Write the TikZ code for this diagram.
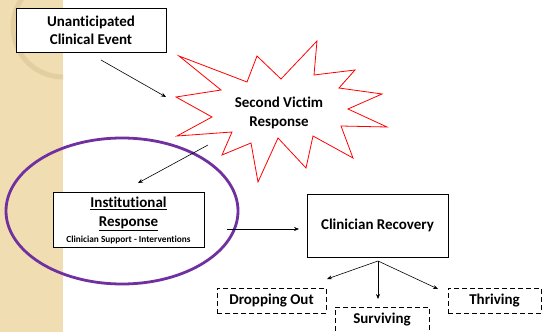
\documentclass[tikz,border=0pt]{standalone}
\usepackage{fontspec}
\setmainfont[Ligatures={NoCommon}]{Carlito}
\usetikzlibrary{arrows.meta}
\definecolor{tanstrip}{RGB}{240,222,178}
\definecolor{tanring}{RGB}{226,206,160}
\definecolor{ellpurple}{RGB}{112,48,160}
\tikzset{
  box/.style={draw=black, line width=0.8pt, fill=white, inner sep=0pt, align=center,
    font=\bfseries\fontsize{15}{18}\selectfont},
  dbox/.style={box, dash pattern=on 5pt off 3pt},
  arr/.style={draw=black, line width=0.6pt, -{Stealth[length=5pt,width=4pt]}},
}
\begin{document}
\begin{tikzpicture}[x=1pt,y=-1pt]
\useasboundingbox (0,0) rectangle (542,332);
\fill[white] (0,0) rectangle (542,332);
% left strip
\fill[tanstrip] (0,0) rectangle (63,332);
\begin{scope}
\clip (0,0) rectangle (63,332);
\draw[tanring, line width=5pt] (63,27) circle[radius=50];
\end{scope}
% boxes
\node[box, minimum width=150pt, minimum height=44pt] (uce) at (91,30) {Unanticipated\\Clinical Event};
% star
\draw[red, line width=0.8pt, fill=white] (179,56) -- (247,82) -- (257,56) -- (281,79) -- (317,41) -- (314,75)
  -- (355,70) -- (339,88) -- (382,94) -- (348,109) -- (387,127) -- (341,126) -- (353,158)
  -- (313,136) -- (306,168) -- (278,138) -- (258,182) -- (251,143) -- (222,155) -- (232,132)
  -- (177,136) -- (212,117) -- (176,97) -- (221,90) -- cycle;
\node[align=center, font=\bfseries\fontsize{15}{19}\selectfont] (svr) at (279,113) {Second Victim\\Response};
% ellipse
\draw[ellpurple, line width=2.8pt] (122,211) ellipse[x radius=116, y radius=73];
\node[box, minimum width=151pt, minimum height=55pt] (inst) at (128.5,219.5) {};
\node[align=center, font=\bfseries\fontsize{15}{19}\selectfont] (instt) at (128.5,214) {\underline{Institutional}\\\underline{Response}};
\node[font=\bfseries\fontsize{9.3}{11}\selectfont] (insts) at (128.5,239.5) {Clinician Support - Interventions};
\node[box, minimum width=141pt, minimum height=63pt] (rec) at (377.5,225.5) {Clinician Recovery};
\node[dbox, minimum width=109pt, minimum height=25pt] (drop) at (271.5,300.5) {Dropping Out};
\node[dbox, minimum width=94pt, minimum height=25pt] (surv) at (382,319.5) {Surviving};
\node[dbox, minimum width=93pt, minimum height=25pt] (thr) at (494.5,300.5) {Thriving};
% arrow coordinates
\coordinate (a1s) at (101,60);
\coordinate (a1e) at (166,97);
\coordinate (a2s) at (208,145);
\coordinate (a2e) at (138,183);
\coordinate (a3s) at (227,229);
\coordinate (a3e) at (299,229);
\coordinate (br) at (378,261);
\coordinate (bd) at (327,279);
\coordinate (bs) at (378,299);
\coordinate (bt) at (438,289);
\draw[arr] (a1s) -- (a1e);
\draw[arr] (a2s) -- (a2e);
\draw[arr] (a3s) -- (a3e);
\draw[arr] (br) -- (bd);
\draw[arr] (br) -- (bs);
\draw[arr] (br) -- (bt);
\end{tikzpicture}
\end{document}
